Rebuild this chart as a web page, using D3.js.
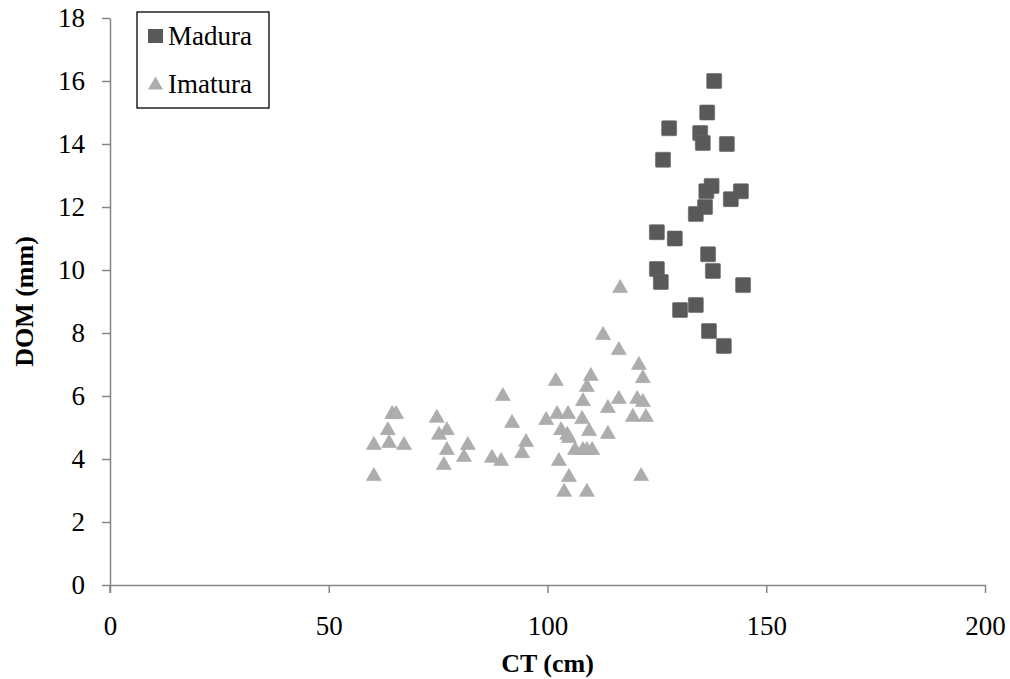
<!DOCTYPE html>
<html>
<head>
<meta charset="utf-8">
<script src="https://cdn.jsdelivr.net/npm/d3@7"></script>
<style>
  body { margin: 0; background: #fff; }
  text { font-family: "Liberation Serif", serif; fill: #000; }
</style>
</head>
<body>
<svg width="1010" height="679"></svg>
<script>
// Madura (squares)
var maduraCT  = [138.1, 136.5, 127.8, 134.9, 135.5, 141.0, 126.4, 137.5, 136.3, 144.2, 141.9, 136.0,
                 133.9, 125.0, 129.1, 136.7, 137.8, 125.0, 125.9, 144.7, 130.3, 133.9, 136.9, 140.3];
var maduraDOM = [16.0, 15.0, 14.5, 14.35, 14.03, 14.0, 13.5, 12.67, 12.5, 12.5, 12.25, 12.0,
                 11.78, 11.2, 11.0, 10.5, 9.97, 10.03, 9.62, 9.52, 8.73, 8.89, 8.06, 7.59];

// Imatura (triangles)
var imaturaCT  = [89.8, 64.5, 65.4, 74.7, 63.5, 77.0, 75.2, 91.9, 60.3, 63.8, 67.2, 77.0, 81.8, 80.9,
                  76.3, 87.3, 89.4, 95.1, 94.2, 60.3,
                  112.7, 116.3, 120.9, 121.8, 109.9, 101.9, 109.0, 108.1, 116.3, 120.5, 121.8, 113.8,
                  119.5, 122.5, 102.2, 104.7, 99.7, 107.9, 103.1, 104.5, 104.9, 109.5, 113.8, 106.3,
                  108.1, 109.0, 110.2, 102.6, 104.9, 103.8, 109.0, 121.4, 116.6];
var imaturaDOM = [6.06, 5.49, 5.49, 5.37, 4.98, 4.98, 4.83, 5.21, 4.51, 4.57, 4.51, 4.35, 4.51, 4.13,
                  3.87, 4.1, 4.0, 4.6, 4.25, 3.52,
                  8.0, 7.52, 7.05, 6.63, 6.7, 6.54, 6.35, 5.9, 5.97, 5.97, 5.87, 5.68,
                  5.4, 5.4, 5.49, 5.49, 5.3, 5.33, 4.98, 4.83, 4.73, 4.95, 4.86, 4.35,
                  4.35, 4.35, 4.35, 4.0, 3.49, 3.02, 3.02, 3.52, 9.49];

var xTicks = [0, 50, 100, 150, 200];
var yTicks = [0, 2, 4, 6, 8, 10, 12, 14, 16, 18];

var margin = {top: 18, right: 25, bottom: 94, left: 110},
    width = 1010 - margin.left - margin.right,
    height = 679 - margin.top - margin.bottom;

var svg = d3.select("svg");
var g = svg.append("g").attr("transform", "translate(" + margin.left + "," + margin.top + ")");

var x = d3.scaleLinear().domain([0, 200]).range([0, width]);
var y = d3.scaleLinear().domain([0, 18]).range([height, 0]);

var axisColor = "#868686";

// x axis
var xAxis = g.append("g")
   .attr("transform", "translate(0," + height + ")")
   .call(d3.axisBottom(x).tickValues(xTicks).tickSize(8).tickSizeOuter(0).tickPadding(23));
// y axis
var yAxis = g.append("g")
   .call(d3.axisLeft(y).tickValues(yTicks).tickSize(8).tickSizeOuter(0).tickPadding(17));

[xAxis, yAxis].forEach(function(a) {
   a.select(".domain").attr("stroke", axisColor).attr("stroke-width", 1.5);
   a.selectAll(".tick line").attr("stroke", axisColor).attr("stroke-width", 1.5);
   a.selectAll(".tick text")
      .style("font-family", "Liberation Serif, serif")
      .style("font-size", "27px")
      .attr("fill", "#000");
});
// y axis extends down below the x axis like the tick marks
g.append("line")
   .attr("x1", 0).attr("x2", 0)
   .attr("y1", height).attr("y2", height + 8)
   .attr("stroke", axisColor).attr("stroke-width", 1.5);

// axis titles
g.append("text")
   .attr("x", width / 2)
   .attr("y", height + 87)
   .attr("text-anchor", "middle")
   .style("font-size", "26px")
   .style("font-weight", "bold")
   .text("CT (cm)");

g.append("text")
   .attr("transform", "translate(" + (-77) + "," + (height / 2) + ") rotate(-90)")
   .attr("text-anchor", "middle")
   .style("font-size", "26px")
   .style("font-weight", "bold")
   .text("DOM (mm)");

var madColor = "#595959", imaColor = "#adadad";
var triPath = "M0,-6.5L7.5,6.5L-7.5,6.5Z";

// triangles
g.append("g").selectAll("path")
   .data(imaturaCT)
   .enter().append("path")
   .attr("d", triPath)
   .attr("transform", function(d, i) { return "translate(" + x(d) + "," + y(imaturaDOM[i]) + ")"; })
   .attr("fill", imaColor)
   .attr("stroke", "#a6a6a6")
   .attr("stroke-width", 0.6);

// squares
g.append("g").selectAll("rect")
   .data(maduraCT)
   .enter().append("rect")
   .attr("x", function(d) { return x(d) - 7.5; })
   .attr("y", function(d, i) { return y(maduraDOM[i]) - 7.5; })
   .attr("width", 15)
   .attr("height", 15)
   .attr("rx", 1)
   .attr("fill", madColor)
   .attr("stroke", "#666")
   .attr("stroke-width", 0.6);

// legend
var legend = svg.append("g").attr("transform", "translate(137,12)");
legend.append("rect")
   .attr("width", 132).attr("height", 96)
   .attr("fill", "#fff").attr("stroke", "#000").attr("stroke-width", 1.3);
legend.append("rect")
   .attr("x", 11).attr("y", 17).attr("width", 15).attr("height", 14)
   .attr("fill", madColor);
legend.append("path")
   .attr("d", triPath)
   .attr("transform", "translate(18.5,71)")
   .attr("fill", imaColor);
legend.append("text").attr("x", 31).attr("y", 33).style("font-size", "27px").text("Madura");
legend.append("text").attr("x", 31).attr("y", 81).style("font-size", "27px").text("Imatura");
</script>
</body>
</html>
